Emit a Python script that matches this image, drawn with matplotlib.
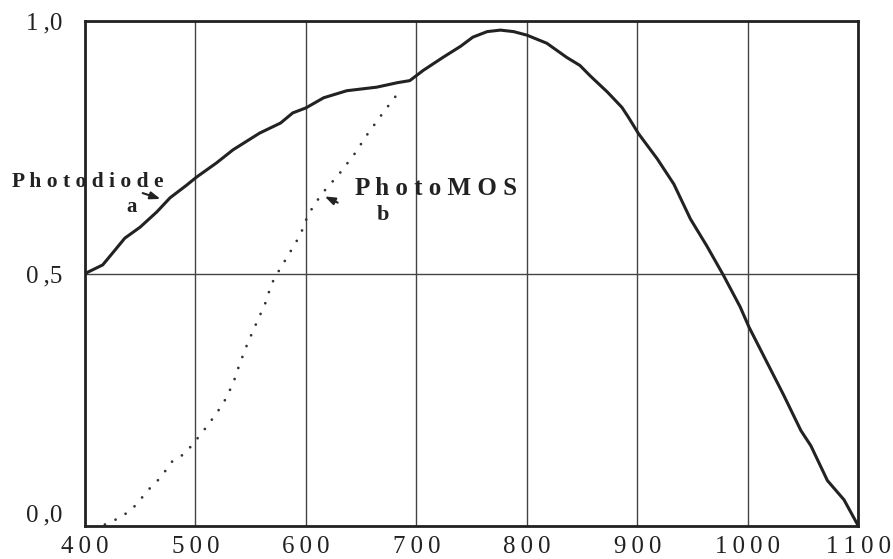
'''
Spectral sensitivity: photodiode vs PhotoMOS.
'''

import matplotlib
matplotlib.use("Agg")
import matplotlib.pyplot as plt

# wavelength (nm) / relative sensitivity
diode_x = [400, 416, 427, 436, 450, 465, 477, 492, 501, 519, 534, 558, 577, 588,
           600, 616, 637, 664, 683, 694, 706, 724, 740, 751, 764, 776, 788, 800,
           818, 836, 848, 857, 873, 886, 892, 901, 918, 933, 948, 963, 978, 993,
           1001, 1018, 1032, 1048, 1057, 1072, 1087, 1100]
diode_y = [0.50, 0.517, 0.546, 0.570, 0.592, 0.622, 0.650, 0.675, 0.691, 0.719,
           0.745, 0.778, 0.798, 0.818, 0.828, 0.848, 0.862, 0.869, 0.878, 0.882,
           0.902, 0.928, 0.950, 0.968, 0.979, 0.982, 0.979, 0.972, 0.956, 0.928,
           0.912, 0.892, 0.859, 0.829, 0.809, 0.777, 0.727, 0.677, 0.608, 0.554,
           0.496, 0.434, 0.394, 0.321, 0.261, 0.189, 0.159, 0.090, 0.052, 0.0]

mos_x = [418, 431, 442, 450, 457, 468, 479, 490, 498, 512, 525, 534, 540, 547,
         555, 563, 569, 574, 585, 595, 602, 614, 630, 644, 656, 670, 684]
mos_y = [0.003, 0.016, 0.032, 0.052, 0.071, 0.095, 0.128, 0.143, 0.163, 0.202,
         0.242, 0.282, 0.321, 0.361, 0.401, 0.440, 0.480, 0.500, 0.540, 0.577,
         0.617, 0.657, 0.697, 0.737, 0.777, 0.819, 0.859]

x_ticks = [400, 500, 600, 700, 800, 900, 1000, 1100]
y_ticks = [0.0, 0.5, 1.0]
y_labels = ["0\u2009,0", "0\u2009,5", "1\u2009,0"]

INK = "#222222"


def spaced(s, gap="\u2009"):
    return gap.join(s)


plt.rcParams['font.family'] = ['Liberation Serif', 'DejaVu Serif']

fig = plt.figure(figsize=(8.93, 5.59), dpi=100)
ax = fig.add_axes([0.0952, 0.059, 0.866, 0.9034])

# Draw graph
ax.plot(diode_x, diode_y, color=INK, lw=2.2, solid_capstyle='round')
ax.plot(mos_x, mos_y, color="#333333", lw=2.0, dash_capstyle='round',
        linestyle=(0, (0.01, 4.2)))

ax.set_xlim(400, 1100)
ax.set_ylim(0, 1)
ax.set_xticks(x_ticks)
ax.set_xticklabels([spaced(str(t)) for t in x_ticks])
ax.set_yticks(y_ticks)
ax.set_yticklabels(y_labels)
ax.tick_params(length=0, labelsize=18, colors=INK)
ax.tick_params(axis='x', pad=7)
ax.tick_params(axis='y', pad=16)
ax.get_yticklabels()[0].set_verticalalignment('bottom')

ax.grid(True, color="#444444", lw=1.0)
for sp in ax.spines.values():
    sp.set_linewidth(2.0)
    sp.set_color(INK)

# labels on the curves
ax.text(334, 0.671, spaced("Photodiode", " "), fontsize=15.5, fontweight='bold',
        color=INK, ha='left', va='baseline')
ax.text(441.7, 0.622, "a", fontsize=15, fontweight='bold', color=INK,
        ha='center', va='baseline')
ax.annotate("", xy=(470.7, 0.646), xytext=(449.8, 0.661),
            arrowprops=dict(arrowstyle='-|>,head_length=0.6,head_width=0.22',
                            color=INK, lw=1.5))

ax.text(644.6, 0.655, spaced("PhotoMOS", " "), fontsize=18, fontweight='bold',
        color=INK, ha='left', va='baseline')
ax.text(670, 0.606, "b", fontsize=16, fontweight='bold', color=INK,
        ha='center', va='baseline')
ax.annotate("", xy=(614.7, 0.655), xytext=(631, 0.638),
            arrowprops=dict(arrowstyle='-|>,head_length=0.6,head_width=0.22',
                            color=INK, lw=1.5))

fig.savefig("out.png", dpi=100)
